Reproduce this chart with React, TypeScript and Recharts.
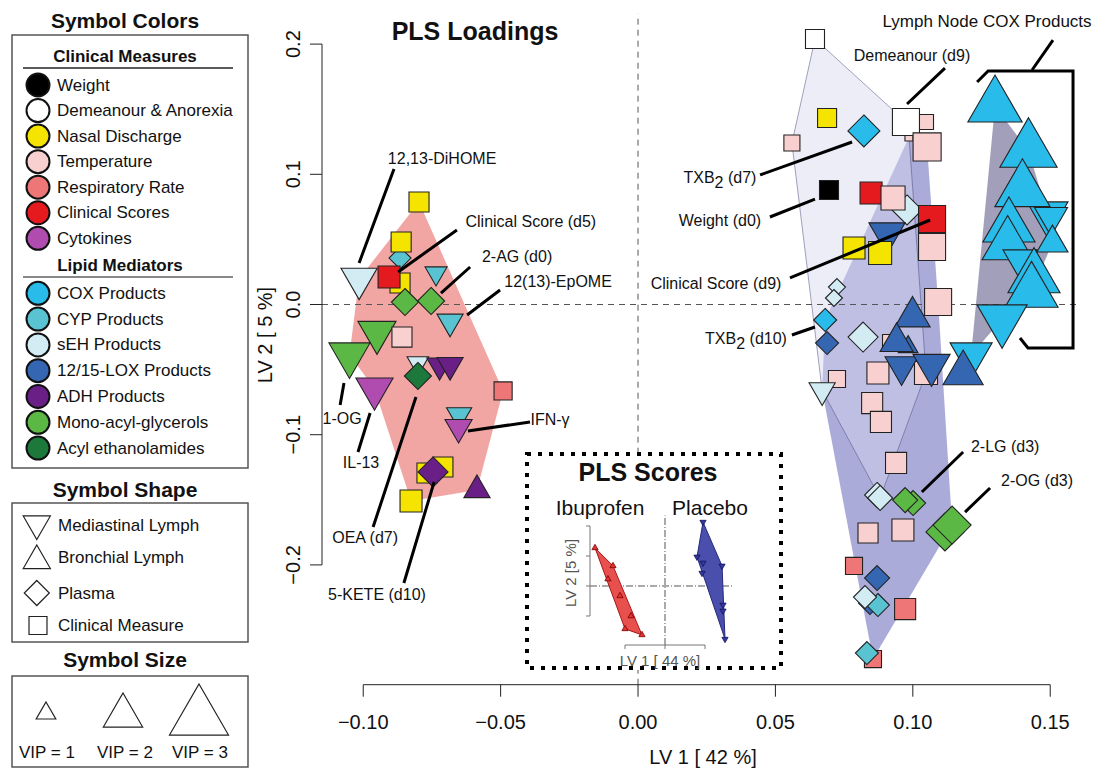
import React from 'react';
import { ScatterChart, Scatter, XAxis, YAxis } from 'recharts';

const FONT = '"Liberation Sans", Arial, Helvetica, sans-serif';

// ---------- main axes ----------
const X_MIN = -0.115;
const X_MAX = 0.16;
const Y_MIN = -0.292;
const Y_MAX = 0.2235;
const xTicks = [-0.1, -0.05, 0, 0.05, 0.1, 0.15];
const yTicks = [-0.2, -0.1, 0, 0.1, 0.2];

// [id, LV1 loading, LV2 loading, VIP, class, tissue]
type Pt = [string, number, number, number, string, string];

const leftLoadings: Pt[] = [
  ['L3', -0.0866, 0.0357, 1.2, 'CYP', 'P'],
  ['L1', -0.0797, 0.0787, 1.55, 'N', 'C'],
  ['L2', -0.0862, 0.048, 1.55, 'N', 'C'],
  ['L5', -0.0866, 0.0165, 1.55, 'N', 'C'],
  ['L4', -0.1015, 0.0198, 1.84, 'sEH', 'M'],
  ['L6', -0.0906, 0.0211, 1.7, 'C', 'C'],
  ['L7', -0.0735, 0.024, 1.12, 'CYP', 'M'],
  ['L8', -0.0848, 0.0019, 1.48, 'MAG', 'P'],
  ['L9', -0.0753, 0.0027, 1.48, 'MAG', 'P'],
  ['L10', -0.0684, -0.0132, 1.33, 'CYP', 'M'],
  ['L11', -0.095, -0.0214, 1.94, 'MAG', 'M'],
  ['L12', -0.0859, -0.025, 1.55, 'T', 'C'],
  ['L13', -0.105, -0.0386, 2.09, 'MAG', 'M'],
  ['L14', -0.0801, -0.0449, 1.1, 'sEH', 'M'],
  ['L15', -0.0722, -0.0467, 1.3, 'ADH', 'M'],
  ['L16', -0.0684, -0.0465, 1.33, 'ADH', 'M'],
  ['L17', -0.0801, -0.0549, 1.48, 'AEA', 'P'],
  ['L18', -0.0959, -0.0647, 1.89, 'K', 'M'],
  ['L19', -0.0491, -0.0664, 1.4, 'R', 'C'],
  ['L20', -0.0651, -0.0849, 1.28, 'CYP', 'M'],
  ['L21', -0.0653, -0.0943, 1.38, 'K', 'M'],
  ['L22', -0.071, -0.1248, 1.55, 'N', 'C'],
  ['L23', -0.0768, -0.1294, 1.55, 'N', 'C'],
  ['L24', -0.0746, -0.1286, 1.64, 'ADH', 'P'],
  ['L25', -0.0586, -0.1425, 1.33, 'ADH', 'B'],
  ['L26', -0.0826, -0.1509, 1.7, 'N', 'C'],
];

const rightLoadings: Pt[] = [
  ['R1', 0.0644, 0.2039, 1.47, 'D', 'C'],
  ['R2', 0.0688, 0.1432, 1.47, 'N', 'C'],
  ['R3', 0.056, 0.124, 1.24, 'T', 'C'],
  ['R4', 0.0822, 0.1333, 1.75, 'COX', 'P'],
  ['R6', 0.1048, 0.1402, 1.16, 'T', 'C'],
  ['R8', 0.0986, 0.1286, 0.62, 'T', 'C'],
  ['R5', 0.0975, 0.1402, 2.09, 'D', 'C'],
  ['R7', 0.1052, 0.121, 2.17, 'T', 'C'],
  ['R9', 0.0695, 0.0879, 1.47, 'W', 'C'],
  ['R10', 0.0848, 0.0856, 1.7, 'C', 'C'],
  ['R12', 0.0979, 0.0726, 1.64, 'sEH', 'P'],
  ['R11', 0.0928, 0.0818, 1.86, 'T', 'C'],
  ['R15', 0.0906, 0.0547, 1.84, 'LOX', 'M'],
  ['R13', 0.107, 0.0657, 2.09, 'C', 'C'],
  ['R14', 0.107, 0.0442, 2.09, 'T', 'C'],
  ['R16', 0.0786, 0.0434, 1.7, 'N', 'C'],
  ['R17', 0.0881, 0.0396, 1.78, 'N', 'C'],
  ['R18a', 0.0724, 0.0134, 0.93, 'sEH', 'P'],
  ['R18b', 0.0713, 0.005, 0.93, 'sEH', 'P'],
  ['R19', 0.1092, 0.0019, 2.09, 'T', 'C'],
  ['R21', 0.0681, -0.0119, 1.26, 'COX', 'P'],
  ['R22', 0.0688, -0.0296, 1.26, 'LOX', 'P'],
  ['R23', 0.0819, -0.025, 1.64, 'sEH', 'P'],
  ['R24', 0.0917, -0.0288, 1.16, 'T', 'C'],
  ['R27', 0.0873, -0.0526, 1.7, 'T', 'C'],
  ['R28', 0.1048, -0.0526, 1.78, 'T', 'C'],
  ['R20', 0.0999, -0.0094, 1.79, 'LOX', 'B'],
  ['R26', 0.0983, -0.0326, 1.0, 'LOX', 'B'],
  ['R25', 0.0941, -0.0288, 1.68, 'LOX', 'B'],
  ['R29', 0.0959, -0.0475, 1.68, 'LOX', 'M'],
  ['R30', 0.1068, -0.0465, 1.89, 'LOX', 'M'],
  ['R31', 0.1212, -0.0388, 2.14, 'COX', 'M'],
  ['R32', 0.1183, -0.0528, 2.04, 'LOX', 'B'],
  ['R33', 0.0724, -0.0572, 1.32, 'T', 'C'],
  ['R34', 0.067, -0.0659, 1.33, 'sEH', 'M'],
  ['R35', 0.0852, -0.0757, 1.63, 'T', 'C'],
  ['R36', 0.0884, -0.0902, 1.63, 'T', 'C'],
  ['R37', 0.0939, -0.1217, 1.63, 'T', 'C'],
  ['R38b', 0.087, -0.1463, 1.37, 'sEH', 'P'],
  ['R38', 0.0881, -0.1486, 1.37, 'sEH', 'P'],
  ['R39b', 0.1001, -0.1525, 1.37, 'MAG', 'P'],
  ['R39', 0.0972, -0.1502, 1.37, 'MAG', 'P'],
  ['R40b', 0.1117, -0.1747, 2.08, 'MAG', 'P'],
  ['R40', 0.1143, -0.1694, 2.08, 'MAG', 'P'],
  ['R41', 0.0837, -0.1755, 1.55, 'T', 'C'],
  ['R42', 0.0964, -0.1732, 1.7, 'T', 'C'],
  ['R43', 0.0786, -0.2008, 1.32, 'R', 'C'],
  ['R44', 0.087, -0.2101, 1.37, 'LOX', 'P'],
  ['R45', 0.0844, -0.2293, 1.26, 'LOX', 'P'],
  ['R46', 0.0873, -0.2308, 1.26, 'CYP', 'P'],
  ['R47', 0.0826, -0.2247, 1.26, 'sEH', 'P'],
  ['R48', 0.0972, -0.2339, 1.63, 'R', 'C'],
  ['R49', 0.0855, -0.2723, 1.32, 'R', 'C'],
  ['R50', 0.0833, -0.2677, 1.26, 'CYP', 'P'],
];

const coxLymphLoadings: Pt[] = [
  ['C6', 0.149, 0.0697, 2.09, 'COX', 'M'],
  ['C7', 0.1503, 0.0672, 1.68, 'COX', 'M'],
  ['C8', 0.1508, 0.0472, 1.58, 'COX', 'B'],
  ['C1', 0.1299, 0.1522, 2.76, 'COX', 'B'],
  ['C2', 0.1421, 0.1181, 2.91, 'COX', 'B'],
  ['C3', 0.1399, 0.0874, 2.81, 'COX', 'B'],
  ['C4', 0.135, 0.0595, 2.65, 'COX', 'B'],
  ['C5', 0.1345, 0.0457, 2.6, 'COX', 'B'],
  ['C9', 0.139, 0.0344, 1.73, 'COX', 'M'],
  ['C10', 0.1441, 0.0206, 2.65, 'COX', 'B'],
  ['C11', 0.1432, 0.0096, 2.7, 'COX', 'B'],
  ['C12', 0.1325, -0.0114, 2.55, 'COX', 'M'],
];

// hull memberships (point ids)
const leftHullIds = ['L1', 'L19', 'L25', 'L26', 'L18', 'L13', 'L4'];
const mediumHullIds = ['R8', 'R7', 'R19', 'R40', 'R49', 'R34', 'R21'];
const paleHullIds = ['R1', 'R5', 'R8', 'R28', 'R38', 'R34', 'R3'];
const coxHullIds = ['C1', 'C2', 'C6', 'C8', 'C11', 'C12', 'R31'];

// annotation labels [text, LV1, LV2]
const annotations: [string, number, number][] = [
  ['12,13-DiHOME', -0.0713, 0.1125],
  ['Clinical Score (d5)', -0.039, 0.0641],
  ['2-AG (d0)', -0.044, 0.0365],
  ['12(13)-EpOME', -0.0291, 0.0173],
  ['1-OG', -0.1077, -0.0872],
  ['IL-13', -0.1008, -0.1217],
  ['OEA (d7)', -0.0993, -0.1786],
  ['5-KETE (d10)', -0.095, -0.2231],
  ['IFN-\u03b3', -0.032, -0.0887],
  ['Demeanour (d9)', 0.0997, 0.1916],
  ['TXB2 (d7)', 0.0298, 0.0979],
  ['Weight (d0)', 0.0298, 0.0649],
  ['Clinical Score (d9)', 0.0284, 0.0165],
  ['TXB2 (d10)', 0.0393, -0.0257],
  ['2-LG (d3)', 0.1336, -0.1094],
  ['2-OG (d3)', 0.1452, -0.1348],
  ['Lymph Node COX Products', 0.127, 0.217],
];

// leader lines [x1, y1, x2, y2]
const leaderLines: [number, number, number, number][] = [
  [-0.0888, 0.1041, -0.1015, 0.0319],
  [-0.0659, 0.0572, -0.0873, 0.025],
  [-0.0611, 0.0288, -0.0717, 0.0088],
  [-0.0502, 0.0111, -0.0622, -0.0081],
  [-0.1084, -0.0772, -0.107, -0.0603],
  [-0.1019, -0.1133, -0.0975, -0.0833],
  [-0.0964, -0.1709, -0.0808, -0.071],
  [-0.0852, -0.2139, -0.0742, -0.1363],
  [-0.0393, -0.0902, -0.0619, -0.0972],
  [0.1117, 0.1816, 0.0979, 0.154],
  [0.0444, 0.0995, 0.0779, 0.1248],
  [0.048, 0.0672, 0.0644, 0.081],
  [0.0553, 0.0204, 0.1063, 0.0649],
  [0.056, -0.0234, 0.0644, -0.0173],
  [0.1183, -0.1133, 0.1033, -0.144],
  [0.1281, -0.1409, 0.119, -0.1594],
  [0.151, 0.2031, 0.1434, 0.1801],
];

// bracket around lymph node COX products
const bracketX = [0.1234, 0.1274, 0.1583, 0.1583, 0.1419, 0.139];
const bracketY = [0.1709, 0.1793, 0.1793, -0.0334, -0.0334, -0.0257];

// ---------- inset (PLS scores) ----------
const X2_MIN = -9.375;
const X2_MAX = 11.25;
const Y2_MIN = -1.9667;
const Y2_MAX = 2.4;
const x2Ticks = [-5, 0, 5];
const y2Ticks = [-1, 0, 1, 2];
const ibuprofenScores: [number, number][] = [
  [-8.75, 1.27], [-6.5, 0.67], [-7.13, 0.23], [-5.63, -0.33], [-4.25, -1.0], [-5.0, -1.43], [-2.88, -1.63],
];
const placeboScores: [number, number][] = [
  [4.75, 2.13], [4.0, 0.97], [4.75, 0.77], [4.63, 0.43], [7.13, 0.67], [7.25, -0.63], [7.25, -0.83], [7.5, -1.77],
];
const ibuprofenHull = [0, 1, 6, 5];
const placeboHull = [0, 4, 7, 1];

// ---------- legend ----------
const clinicalLegend: [string, string][] = [
  ['W', 'Weight'], ['D', 'Demeanour & Anorexia'], ['N', 'Nasal Discharge'], ['T', 'Temperature'],
  ['R', 'Respiratory Rate'], ['C', 'Clinical Scores'], ['K', 'Cytokines'],
];
const lipidLegend: [string, string][] = [
  ['COX', 'COX Products'], ['CYP', 'CYP Products'], ['sEH', 'sEH Products'], ['LOX', '12/15-LOX Products'],
  ['ADH', 'ADH Products'], ['MAG', 'Mono-acyl-glycerols'], ['AEA', 'Acyl ethanolamides'],
];
const shapeLegend: [string, string][] = [
  ['M', 'Mediastinal Lymph'], ['B', 'Bronchial Lymph'], ['P', 'Plasma'], ['C', 'Clinical Measure'],
];
const vipLegend = [1, 2, 3];

// ---------- styles ----------
const classColors: Record<string, string> = {
  W: '#000000', D: '#FFFFFF', N: '#F4E400', T: '#F8D0D0', R: '#EF7676', C: '#E41A1F', K: '#B04CB0',
  COX: '#29BBE9', CYP: '#5AC3D2', sEH: '#D3ECF4', LOX: '#3466B2', ADH: '#6A1F87', MAG: '#5CB845', AEA: '#1D793B',
};
const UNIT = 7.3;

function symbolPath(tissue: string, cx: number, cy: number, vip: number, unit = UNIT): string {
  const R = unit * vip;
  if (tissue === 'C') {
    const h = 0.886 * R;
    return `M${cx - h},${cy - h}H${cx + h}V${cy + h}H${cx - h}Z`;
  }
  if (tissue === 'P') {
    const d = 1.253 * R;
    return `M${cx},${cy - d}L${cx + d},${cy}L${cx},${cy + d}L${cx - d},${cy}Z`;
  }
  const r = 1.555 * R;
  const xc = 1.347 * R;
  const yc = 0.777 * R;
  if (tissue === 'B') return `M${cx},${cy - r}L${cx + xc},${cy + yc}L${cx - xc},${cy + yc}Z`;
  return `M${cx},${cy + r}L${cx + xc},${cy - yc}L${cx - xc},${cy - yc}Z`;
}

const toObj = (p: Pt) => ({ id: p[0], x: p[1], y: p[2], vip: p[3], cls: p[4], tissue: p[5] });
const leftData = leftLoadings.map(toObj);
const rightData = rightLoadings.map(toObj);
const coxData = coxLymphLoadings.map(toObj);
const byId: Record<string, any> = {};
[...leftData, ...rightData, ...coxData].forEach((p) => (byId[p.id] = p));
const hullData = (ids: string[]) => ids.map((id) => ({ x: byId[id].x, y: byId[id].y }));

const zeroLineData = [
  { x: 0, y: Y_MIN }, { x: 0, y: Y_MAX }, { x: X_MIN, y: 0 }, { x: X_MAX, y: 0 },
];
const axisLineData = [
  { x: xTicks[0], y: Y_MIN }, { x: xTicks[xTicks.length - 1], y: Y_MIN },
  { x: X_MIN, y: yTicks[0] }, { x: X_MIN, y: yTicks[yTicks.length - 1] },
];
const leaderData = leaderLines.flatMap(([a, b, c, d]) => [{ x: a, y: b }, { x: c, y: d }]);
const bracketData = bracketX.map((x, i) => ({ x, y: bracketY[i] }));
const annotationData = annotations.map(([text, x, y]) => ({ text, x, y }));

const ibuData = ibuprofenScores.map(([x, y]) => ({ x, y }));
const plaData = placeboScores.map(([x, y]) => ({ x, y }));
const ibuHullData = ibuprofenHull.map((i) => ibuData[i]);
const plaHullData = placeboHull.map((i) => plaData[i]);
const inset0Data = [
  { x: 0, y: Y2_MIN }, { x: 0, y: 2.35 }, { x: X2_MIN, y: 0 }, { x: 8.4, y: 0 },
];
const inset1Data = [
  { x: x2Ticks[0], y: Y2_MIN }, { x: x2Ticks[2], y: Y2_MIN },
  { x: X2_MIN, y: y2Ticks[0] }, { x: X2_MIN, y: y2Ticks[3] },
];

// ---------- render helpers ----------
const NoShape = () => <g />;

const MarkerShape = (props: any) => {
  const { cx, cy, payload } = props;
  if (cx == null || cy == null || !payload) return <g />;
  return (
    <path
      d={symbolPath(payload.tissue, cx, cy, payload.vip)}
      fill={classColors[payload.cls]}
      stroke="#222"
      strokeWidth={1.1}
    />
  );
};

const polygonLine = (fill: string, opacity: number, stroke = 'none', strokeOpacity = 1, strokeWidth = 1) => (props: any) => {
  const pts = props.points || [];
  const d = pts.map((p: any, i: number) => `${i ? 'L' : 'M'}${p.x},${p.y}`).join('') + 'Z';
  return <path d={d} fill={fill} fillOpacity={opacity} stroke={stroke} strokeOpacity={strokeOpacity} strokeWidth={strokeWidth} />;
};

const pairLine = (stroke: string, width: number, dash?: string) => (props: any) => {
  const pts = props.points || [];
  let d = '';
  for (let i = 0; i + 1 < pts.length; i += 2) d += `M${pts[i].x},${pts[i].y}L${pts[i + 1].x},${pts[i + 1].y}`;
  return <path d={d} stroke={stroke} strokeWidth={width} strokeDasharray={dash} fill="none" />;
};

const openLine = (stroke: string, width: number) => (props: any) => {
  const pts = props.points || [];
  const d = pts.map((p: any, i: number) => `${i ? 'L' : 'M'}${p.x},${p.y}`).join('');
  return <path d={d} stroke={stroke} strokeWidth={width} fill="none" strokeLinejoin="miter" />;
};

const LabelShape = (props: any) => {
  const { cx, cy, payload } = props;
  if (cx == null || !payload) return <g />;
  const t: string = payload.text;
  const common = {
    x: cx, y: cy, textAnchor: 'middle' as const, dominantBaseline: 'central' as const,
    fontSize: t.startsWith('Lymph') ? 17 : 16, fontFamily: FONT, fill: '#111',
  };
  if (t.startsWith('TXB2')) {
    return (
      <text {...common}>
        <tspan>TXB</tspan>
        <tspan dy={5}>2</tspan>
        <tspan dy={-5}>{t.slice(4)}</tspan>
      </text>
    );
  }
  return <text {...common}>{t}</text>;
};

const fmt = (v: number, d: number) => (v < -1e-9 ? '\u2212' : '') + Math.abs(v).toFixed(d);

const XTick = (props: any) => {
  const { x, y, payload } = props;
  return (
    <text x={x} y={y + 25} textAnchor="middle" dominantBaseline="central" fontSize={20} fontFamily={FONT} fill="#111">
      {fmt(payload.value, 2)}
    </text>
  );
};

const YTick = (props: any) => {
  const { x, y, payload } = props;
  const tx = x - 17;
  return (
    <text x={tx} y={y} transform={`rotate(-90 ${tx} ${y})`} textAnchor="middle" dominantBaseline="central" fontSize={20} fontFamily={FONT} fill="#111">
      {fmt(payload.value, 1)}
    </text>
  );
};

const EmptyTick = () => <g />;

const InsetMarker = (color: string, stroke: string, up: boolean) => (props: any) => {
  const { cx, cy } = props;
  if (cx == null) return <g />;
  return <path d={symbolPath(up ? 'B' : 'M', cx, cy, 1, 2.3)} fill={color} stroke={stroke} strokeWidth={0.8} />;
};

// ---------- legend panel ----------
function LegendPanel() {
  const t = { fontFamily: FONT, fill: '#111' };
  return (
    <svg width={260} height={771} style={{ position: 'absolute', left: 0, top: 0 }}>
      <text x={125} y={20} textAnchor="middle" dominantBaseline="central" fontSize={21} fontWeight="bold" {...t}>Symbol Colors</text>
      <rect x={12} y={35} width={236} height={433} fill="none" stroke="#555" strokeWidth={1.5} />
      <text x={125} y={56} textAnchor="middle" dominantBaseline="central" fontSize={17} fontWeight="bold" {...t}>Clinical Measures</text>
      <line x1={23} x2={233} y1={68} y2={68} stroke="#222" strokeWidth={1.5} />
      {clinicalLegend.map(([k, label], i) => (
        <g key={k}>
          <circle cx={38} cy={85 + i * 25.55} r={11.5} fill={classColors[k]} stroke="#111" strokeWidth={2} />
          <text x={57} y={85 + i * 25.55} dominantBaseline="central" fontSize={17} {...t}>{label}</text>
        </g>
      ))}
      <text x={120} y={265} textAnchor="middle" dominantBaseline="central" fontSize={17} fontWeight="bold" {...t}>Lipid Mediators</text>
      <line x1={23} x2={233} y1={277} y2={277} stroke="#888" strokeWidth={2} />
      {lipidLegend.map(([k, label], i) => (
        <g key={k}>
          <circle cx={38} cy={293.3 + i * 25.8} r={11.5} fill={classColors[k]} stroke="#111" strokeWidth={2} />
          <text x={57} y={293.3 + i * 25.8} dominantBaseline="central" fontSize={17} {...t}>{label}</text>
        </g>
      ))}

      <text x={125} y={489} textAnchor="middle" dominantBaseline="central" fontSize={21} fontWeight="bold" {...t}>Symbol Shape</text>
      <rect x={12} y={503} width={236} height={139} fill="none" stroke="#555" strokeWidth={1.5} />
      {shapeLegend.map(([k, label], i) => {
        const sy = [523.8, 560.7, 593, 625.5][i];
        const ty = [525, 557, 593, 625][i];
        const vip = [1.38, 1.38, 1.37, 1.39][i];
        return (
          <g key={k}>
            <path d={symbolPath(k, k === 'C' ? 38 : 36.8, sy, vip)} fill="#fff" stroke="#222" strokeWidth={1.2} />
            <text x={58} y={ty} dominantBaseline="central" fontSize={17} {...t}>{label}</text>
          </g>
        );
      })}

      <text x={125} y={659} textAnchor="middle" dominantBaseline="central" fontSize={21} fontWeight="bold" {...t}>Symbol Size</text>
      <rect x={12} y={676} width={236} height={91} fill="none" stroke="#555" strokeWidth={1.5} />
      {vipLegend.map((v, i) => {
        const cx = [46, 123, 199][i];
        const apex = [702, 693, 684][i];
        const cy = apex + 1.555 * UNIT * v;
        return (
          <g key={v}>
            <path d={symbolPath('B', cx, cy, v)} fill="#fff" stroke="#222" strokeWidth={1.2} />
            <text x={[47, 125, 200][i]} y={752} textAnchor="middle" dominantBaseline="central" fontSize={17} {...t}>{`VIP = ${v}`}</text>
          </g>
        );
      })}
    </svg>
  );
}

// ---------- inset ----------
function Inset() {
  return (
    <div style={{ position: 'absolute', left: 525, top: 452, width: 258, height: 218, background: '#fff' }}>
      <ScatterChart width={258} height={218} margin={{ top: 62, right: 28, bottom: 15, left: 55 }}>
        <XAxis type="number" dataKey="x" domain={[X2_MIN, X2_MAX]} ticks={x2Ticks} interval={0} axisLine={false}
          tickLine={{ stroke: '#777' }} tickSize={4} height={10} tick={EmptyTick} />
        <YAxis type="number" dataKey="y" domain={[Y2_MIN, Y2_MAX]} ticks={y2Ticks} interval={0} axisLine={false}
          tickLine={{ stroke: '#777' }} tickSize={4} width={10} tick={EmptyTick} />
        <Scatter data={inset0Data} shape={NoShape} line={pairLine('#555', 1, '7 2 1 2')} isAnimationActive={false} />
        <Scatter data={inset1Data} shape={NoShape} line={pairLine('#777', 1)} isAnimationActive={false} />
        <Scatter data={ibuHullData} shape={NoShape} line={polygonLine('#E8504E', 1, '#A81818', 1, 1)} isAnimationActive={false} />
        <Scatter data={plaHullData} shape={NoShape} line={polygonLine('#4A4FAD', 1, '#25287A', 1, 1)} isAnimationActive={false} />
        <Scatter data={ibuData} shape={InsetMarker('#E23434', '#7a0000', true)} isAnimationActive={false} />
        <Scatter data={plaData} shape={InsetMarker('#3237A0', '#15155a', false)} isAnimationActive={false} />
      </ScatterChart>
      <svg width={258} height={218} style={{ position: 'absolute', left: 0, top: 0 }}>
        <rect x={2} y={2} width={254} height={214} fill="none" stroke="#000" strokeWidth={4} strokeDasharray="4 7" />
        <text x={123} y={20} textAnchor="middle" dominantBaseline="central" fontSize={25} fontWeight="bold" fontFamily={FONT} fill="#111">PLS Scores</text>
        <text x={75} y={55} textAnchor="middle" dominantBaseline="central" fontSize={21} fontFamily={FONT} fill="#111">Ibuprofen</text>
        <text x={185} y={55} textAnchor="middle" dominantBaseline="central" fontSize={21} fontFamily={FONT} fill="#111">Placebo</text>
        <text x={45} y={121} transform="rotate(-90 45 121)" textAnchor="middle" dominantBaseline="central" fontSize={15} fontFamily={FONT} fill="#555">LV 2 [5  %]</text>
        <text x={135} y={208} textAnchor="middle" dominantBaseline="central" fontSize={15} fontFamily={FONT} fill="#555">LV 1 [ 44 %]</text>
      </svg>
    </div>
  );
}

export default function App() {
  return (
    <div style={{ position: 'absolute', left: 0, top: 0, width: 1093, height: 771, background: '#fff', fontFamily: FONT }}>
      <div style={{ position: 'absolute', left: 0, top: 0 }}>
        <ScatterChart width={1093} height={771} margin={{ top: 13.5, right: 15.3, bottom: 36.3, left: 262 }}>
          <XAxis type="number" dataKey="x" domain={[X_MIN, X_MAX]} ticks={xTicks} interval={0} axisLine={false}
            tickLine={{ stroke: '#222' }} tickSize={12} tickMargin={0} height={50} tick={XTick} />
          <YAxis type="number" dataKey="y" domain={[Y_MIN, Y_MAX]} ticks={yTicks} interval={0} axisLine={false}
            tickLine={{ stroke: '#222' }} tickSize={12} tickMargin={0} width={60} tick={YTick} />
          <Scatter data={hullData(leftHullIds)} shape={NoShape} line={polygonLine('#F2A6A4', 1)} isAnimationActive={false} />
          <Scatter data={hullData(mediumHullIds)} shape={NoShape} line={polygonLine('#7878C4', 0.62)} isAnimationActive={false} />
          <Scatter data={hullData(paleHullIds)} shape={NoShape} line={polygonLine('#D7D7F0', 0.45, '#4A4A7A', 0.5, 1)} isAnimationActive={false} />
          <Scatter data={hullData(coxHullIds)} shape={NoShape} line={polygonLine('#645F8C', 0.6)} isAnimationActive={false} />
          <Scatter data={zeroLineData} shape={NoShape} line={pairLine('#555', 1, '6 5')} isAnimationActive={false} />
          <Scatter data={axisLineData} shape={NoShape} line={pairLine('#222', 1)} isAnimationActive={false} />
          <Scatter data={leftData} shape={MarkerShape} isAnimationActive={false} />
          <Scatter data={rightData} shape={MarkerShape} isAnimationActive={false} />
          <Scatter data={coxData} shape={MarkerShape} isAnimationActive={false} />
          <Scatter data={leaderData} shape={NoShape} line={pairLine('#000', 3)} isAnimationActive={false} />
          <Scatter data={bracketData} shape={NoShape} line={openLine('#000', 3)} isAnimationActive={false} />
          <Scatter data={annotationData} shape={LabelShape} isAnimationActive={false} />
        </ScatterChart>
      </div>
      <svg width={1093} height={771} style={{ position: 'absolute', left: 0, top: 0, pointerEvents: 'none' }}>
        <text x={475} y={31} textAnchor="middle" dominantBaseline="central" fontSize={25} fontWeight="bold" fontFamily={FONT} fill="#111">PLS Loadings</text>
        <text x={703} y={757} textAnchor="middle" dominantBaseline="central" fontSize={20} fontFamily={FONT} fill="#111">LV 1 [ 42 %]</text>
        <text x={265} y={335} transform="rotate(-90 265 335)" textAnchor="middle" dominantBaseline="central" fontSize={20} fontFamily={FONT} fill="#111">LV 2 [ 5 %]</text>
      </svg>
      <LegendPanel />
      <Inset />
    </div>
  );
}
